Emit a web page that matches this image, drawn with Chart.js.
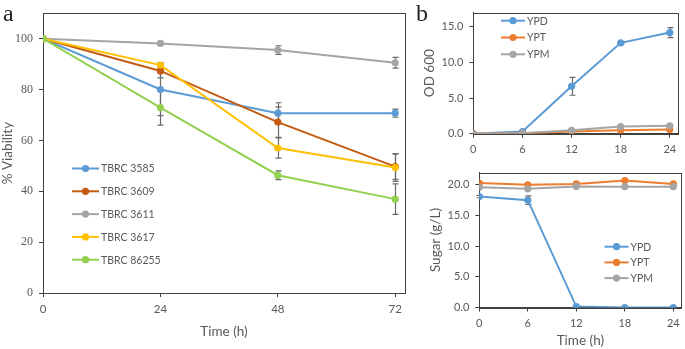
<!DOCTYPE html>
<html>
<head>
<meta charset="utf-8">
<script src="https://cdn.jsdelivr.net/npm/chart.js@4.4.0/dist/chart.umd.min.js"></script>
<style>
  body { margin: 0; background: #fff; }
  #wrap { position: relative; width: 685px; height: 349px; overflow: hidden; }
  canvas { position: absolute; }
  .tag { position: absolute; font-family: "Liberation Serif", serif; font-size: 24px; color: #222; line-height: 1; }
</style>
</head>
<body>
<div id="wrap">
  <canvas id="viab" width="415" height="349" style="left:0;top:0"></canvas>
  <canvas id="od" width="275" height="160" style="left:410px;top:0"></canvas>
  <canvas id="sugar" width="275" height="189" style="left:410px;top:160px"></canvas>
  <div class="tag" style="left:3px;top:1px">a</div>
  <div class="tag" style="left:416px;top:1px">b</div>
</div>
<script>
// panel a - viability of strains
const hours = [0, 24, 48, 72];
const strains = ["TBRC 3585", "TBRC 3609", "TBRC 3611", "TBRC 3617", "TBRC 86255"];
const viab3585 = [100, 80, 70.7, 70.7];
const err3585 = [0, 10.3, 4.1, 1.6];
const viab3609 = [100, 87.3, 67.2, 49.7];
const err3609 = [0, 2.7, 6.0, 5.0];
const viab3611 = [100, 98.1, 95.5, 90.5];
const err3611 = [0, 0.6, 1.7, 2.1];
const viab3617 = [100, 89.6, 57.0, 49.3];
const err3617 = [0, 1.0, 4.0, 5.4];
const viab86255 = [100, 72.9, 46.3, 36.9];
const err86255 = [0, 6.9, 1.7, 6.0];
const viabTicks = [0, 20, 40, 60, 80, 100];
const hourTicks = [0, 24, 48, 72];

// panel b - growth and sugar
const bHours = [0, 6, 12, 18, 24];
const media = ["YPD", "YPT", "YPM"];
const odYPD = [0, 0.3, 6.65, 12.75, 14.2];
const odYPDErr = [0, 0.1, 1.25, 0.15, 0.7];
const odYPT = [0, 0.05, 0.3, 0.5, 0.6];
const odYPM = [0, 0.08, 0.48, 1.0, 1.1];
const sugarYPD = [18.1, 17.5, 0.15, 0, 0];
const sugarYPDErr = [0.2, 0.7, 0.1, 0, 0];
const sugarYPT = [20.3, 20.0, 20.15, 20.7, 20.15];
const sugarYPM = [19.6, 19.35, 19.75, 19.7, 19.7];
const bHourTicks = [0, 6, 12, 18, 24];
const odTicks = [0, 5, 10, 15];
const sugarTicks = [0, 5, 10, 15, 20];

const sans = "Lato, 'Open Sans', sans-serif";
const axisColor = "#404040";
const textColor = "#595959";

function pts(xs, ys) {
  return xs.map((x, i) => ({ x: x, y: ys[i] }));
}

function series(label, xs, ys, color, errs, order) {
  return {
    label: label,
    data: pts(xs, ys),
    errors: errs,
    borderColor: color,
    backgroundColor: color,
    borderWidth: 2,
    pointRadius: 3.6,
    pointHoverRadius: 3.6,
    pointBorderWidth: 0,
    tension: 0,
    order: order,
  };
}

// box around plot area
const frame = {
  id: "frame",
  beforeDatasetsDraw(chart) {
    const a = chart.chartArea;
    const ctx = chart.ctx;
    ctx.save();
    ctx.strokeStyle = axisColor;
    ctx.lineWidth = 1;
    ctx.strokeRect(Math.round(a.left) + 0.5, Math.round(a.top) + 0.5,
      Math.round(a.right - a.left), Math.round(a.bottom - a.top));
    ctx.restore();
  },
};

// vertical error bars with caps
const errorBars = {
  id: "errorBars",
  beforeDatasetsDraw(chart) {
    const ctx = chart.ctx;
    const xs = chart.scales.x, ys = chart.scales.y;
    ctx.save();
    ctx.strokeStyle = "#6a6a6a";
    ctx.lineWidth = 1.2;
    chart.data.datasets.forEach((ds) => {
      if (!ds.errors) return;
      ds.data.forEach((p, i) => {
        const e = ds.errors[i];
        if (!e) return;
        const px = Math.round(xs.getPixelForValue(p.x)) + 0.5;
        const top = ys.getPixelForValue(p.y + e);
        const bot = ys.getPixelForValue(p.y - e);
        ctx.beginPath();
        ctx.moveTo(px, top); ctx.lineTo(px, bot);
        ctx.moveTo(px - 3, top); ctx.lineTo(px + 3, top);
        ctx.moveTo(px - 3, bot); ctx.lineTo(px + 3, bot);
        ctx.stroke();
      });
    });
    ctx.restore();
  },
};

// legend drawn inside the plot
const innerLegend = {
  id: "innerLegend",
  afterDraw(chart, args, opts) {
    const ctx = chart.ctx;
    ctx.save();
    ctx.font = opts.size + "px " + sans;
    ctx.textBaseline = "middle";
    chart.data.datasets.forEach((ds, i) => {
      const y = opts.y + i * opts.gap;
      ctx.strokeStyle = ds.borderColor;
      ctx.lineWidth = 2;
      ctx.beginPath();
      ctx.moveTo(opts.x, y);
      ctx.lineTo(opts.x + opts.len, y);
      ctx.stroke();
      ctx.fillStyle = ds.backgroundColor;
      ctx.beginPath();
      ctx.arc(opts.x + opts.len / 2, y, 3.6, 0, Math.PI * 2);
      ctx.fill();
      ctx.fillStyle = textColor;
      ctx.fillText(ds.label, opts.x + opts.len + 2, y + 0.5);
    });
    ctx.restore();
  },
};

function axes(o) {
  return {
    x: {
      type: "linear",
      min: o.xMin, max: o.xMax,
      afterBuildTicks: (s) => { s.ticks = o.xTicks.map((v) => ({ value: v })); },
      afterFit: (s) => { s.height = o.xHeight; },
      grid: { drawOnChartArea: false, drawTicks: true, tickLength: 4, color: axisColor },
      border: { display: true, color: axisColor, width: 1 },
      ticks: { color: textColor, padding: 5, maxRotation: 0, font: { family: sans, size: o.xTickSize } },
      title: {
        display: !!o.xTitle, text: o.xTitle, color: textColor,
        padding: { top: 0, bottom: 0 }, font: { family: sans, size: 13.5 },
      },
    },
    y: {
      type: "linear",
      min: 0, max: o.yMax,
      afterBuildTicks: (s) => { s.ticks = o.yTicks.map((v) => ({ value: v })); },
      afterFit: (s) => { s.width = o.yWidth; },
      grid: { drawOnChartArea: false, drawTicks: true, tickLength: 4, color: axisColor },
      border: { display: true, color: axisColor, width: 1 },
      ticks: {
        color: textColor, padding: 6,
        font: { family: o.yTickFamily || sans, size: o.yTickSize },
        callback: o.yFormat,
      },
      title: {
        display: true, text: o.yTitle, color: textColor,
        padding: { top: 0, bottom: 0 }, font: { family: sans, size: 13.5 },
      },
    },
  };
}

Chart.defaults.animation = false;

new Chart(document.getElementById("viab"), {
  type: "line",
  data: {
    datasets: [
      series(strains[0], hours, viab3585, "#5B9BD5", err3585, 4),
      series(strains[1], hours, viab3609, "#C55A11", err3609, 3),
      series(strains[2], hours, viab3611, "#A5A5A5", err3611, 2),
      series(strains[3], hours, viab3617, "#FFC000", err3617, 1),
      series(strains[4], hours, viab86255, "#92D050", err86255, 0),
    ],
  },
  options: {
    responsive: false,
    layout: { padding: { left: 0, right: 10, top: 3, bottom: 9 } },
    plugins: {
      legend: { display: false },
      tooltip: { enabled: false },
      innerLegend: { x: 72, y: 168.5, gap: 22.8, len: 27, size: 10.5 },
    },
    scales: axes({
      xMin: 0, xMax: 74, xTicks: hourTicks, xHeight: 47, xTickSize: 11.5, xTitle: "Time (h)",
      yMax: 110, yTicks: viabTicks, yWidth: 43, yTickSize: 12, yTickFamily: "'Liberation Serif', serif",
      yTitle: "% Viability", yFormat: (v) => v,
    }),
  },
  plugins: [frame, errorBars, innerLegend],
});

new Chart(document.getElementById("od"), {
  type: "line",
  data: {
    datasets: [
      series(media[0], bHours, odYPD, "#5B9BD5", odYPDErr, 2),
      series(media[1], bHours, odYPT, "#ED7D31", null, 1),
      series(media[2], bHours, odYPM, "#A5A5A5", null, 0),
    ],
  },
  options: {
    responsive: false,
    layout: { padding: { left: 12, right: 7, top: 2, bottom: 0 } },
    plugins: {
      legend: { display: false },
      tooltip: { enabled: false },
      innerLegend: { x: 91, y: 20.7, gap: 16.8, len: 24, size: 10.5 },
    },
    scales: axes({
      xMin: 0, xMax: 25, xTicks: bHourTicks, xHeight: 26.3, xTickSize: 11,
      yMax: 17, yTicks: odTicks, yWidth: 51.3, yTickSize: 11,
      yTitle: "OD 600", yFormat: (v) => v.toFixed(1),
    }),
  },
  plugins: [frame, errorBars, innerLegend],
});

new Chart(document.getElementById("sugar"), {
  type: "line",
  data: {
    datasets: [
      series(media[0], bHours, sugarYPD, "#5B9BD5", sugarYPDErr, 2),
      series(media[1], bHours, sugarYPT, "#ED7D31", null, 1),
      series(media[2], bHours, sugarYPM, "#A5A5A5", null, 0),
    ],
  },
  options: {
    responsive: false,
    layout: { padding: { left: 18, right: 2, top: 12.3, bottom: 0 } },
    plugins: {
      legend: { display: false },
      tooltip: { enabled: false },
      innerLegend: { x: 194.5, y: 86.7, gap: 15.7, len: 24, size: 10.5 },
    },
    scales: axes({
      xMin: 0, xMax: 25, xTicks: bHourTicks, xHeight: 41.5, xTickSize: 11, xTitle: "Time (h)",
      yMax: 22, yTicks: sugarTicks, yWidth: 51.3, yTickSize: 11,
      yTitle: "Sugar (g/L)", yFormat: (v) => v.toFixed(1),
    }),
  },
  plugins: [frame, errorBars, innerLegend],
});
</script>
</body>
</html>
